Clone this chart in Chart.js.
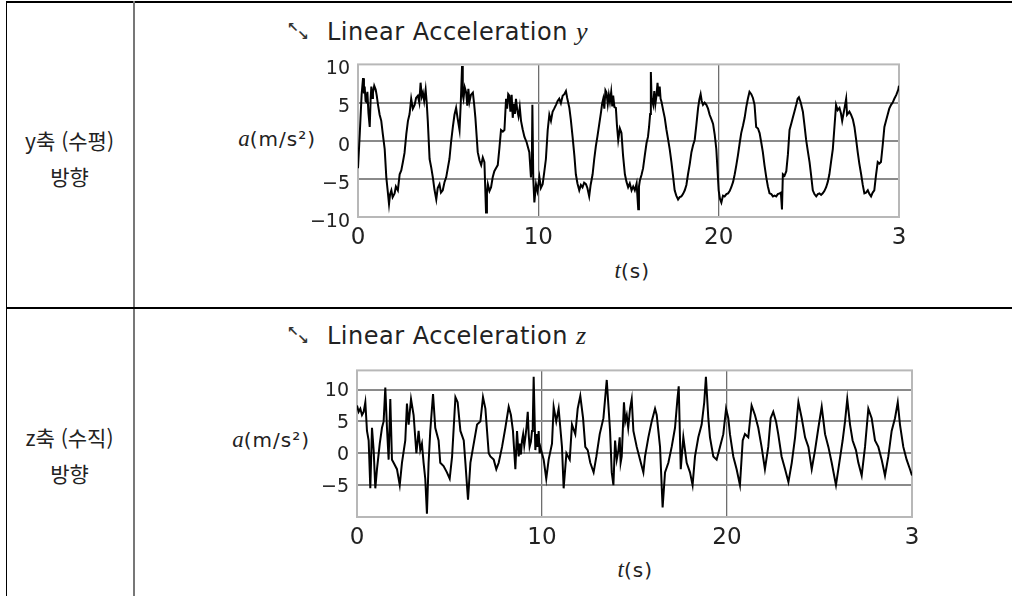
<!DOCTYPE html>
<html lang="ko">
<head>
<meta charset="UTF-8">
<title>Linear Acceleration</title>
<script src="https://cdn.jsdelivr.net/npm/chart.js"></script>
<style>
    body { margin: 0; width: 1012px; height: 596px; background: #fff; position: relative; overflow: hidden; font-family: "DejaVu Sans", sans-serif; color: #222; }
    .abs { position: absolute; white-space: nowrap; }
    .line { position: absolute; background: #000; }
    .box { position: absolute; }
    .kr { position: absolute; left: 6px; width: 127px; text-align: center; font-family: "Noto Sans CJK KR", sans-serif; font-size: 21px; line-height: 24px; color: #222; }
    .title { font-size: 24px; line-height: 24px; letter-spacing: 0.5px; color: #222; }
    .it { font-family: "Liberation Serif", serif; font-style: italic; letter-spacing: 0; }
    .unit { font-size: 20px; line-height: 22px; letter-spacing: 1px; text-align: right; }
    .arr { font-size: 14px; line-height: 14px; font-weight: bold; color: #333; }
</style>
</head>
<body>
    <!-- table frame -->
    <div class="line" style="left:6px;top:1px;width:1006px;height:2px;"></div>
    <div class="line" style="left:6px;top:1px;width:1px;height:595px;"></div>
    <div class="line" style="left:133px;top:1px;width:2px;height:595px;background:#777;"></div>
    <div class="line" style="left:6px;top:307px;width:1006px;height:1.5px;"></div>

    <div class="kr" style="top:128px;">y축 (수평)</div>
    <div class="kr" style="top:164px;">방향</div>
    <div class="kr" style="top:425px;">z축 (수직)</div>
    <div class="kr" style="top:461px;">방향</div>

    <!-- chart 1 texts -->
    <div class="abs arr" style="left:287px;top:20px;">↖</div>
    <div class="abs arr" style="left:297px;top:28px;">↘</div>
    <div class="abs title" style="left:327px;top:20px;">Linear Acceleration <span class="it" style="font-size:26px;">y</span></div>
    <div class="abs unit" style="left:196px;width:120px;top:128px;"><span class="it" style="font-size:23px;">a</span>(m/s²)</div>
    <div class="abs unit" style="left:558px;width:92px;top:260px;"><span class="it" style="font-size:23px;">t</span>(s)</div>

    <!-- chart 2 texts -->
    <div class="abs arr" style="left:287px;top:324px;">↖</div>
    <div class="abs arr" style="left:297px;top:332px;">↘</div>
    <div class="abs title" style="left:327px;top:324px;">Linear Acceleration <span class="it" style="font-size:26px;">z</span></div>
    <div class="abs unit" style="left:190px;width:120px;top:429px;"><span class="it" style="font-size:23px;">a</span>(m/s²)</div>
    <div class="abs unit" style="left:561px;width:92px;top:559px;"><span class="it" style="font-size:23px;">t</span>(s)</div>

    <div class="box" style="left:290px;top:45px;width:640px;height:217px;"><canvas id="chartY"></canvas></div>
    <div class="box" style="left:290px;top:351px;width:650px;height:211px;"><canvas id="chartZ"></canvas></div>

<script>
// time (s) and acceleration (m/s^2)
const timeY = [0.00,0.10,0.20,0.28,0.33,0.37,0.42,0.46,0.52,0.58,
    0.65,0.70,0.74,0.79,0.83,0.90,0.98,1.04,1.11,1.20,
    1.29,1.38,1.48,1.57,1.64,1.72,1.78,1.85,1.92,2.03,
    2.10,2.21,2.31,2.40,2.49,2.58,2.68,2.77,2.86,2.95,
    3.04,3.14,3.22,3.32,3.40,3.47,3.54,3.60,3.67,3.75,
    3.81,3.87,3.97,4.06,4.15,4.24,4.34,4.42,4.52,4.60,
    4.70,4.80,4.89,4.98,5.07,5.16,5.26,5.35,5.44,5.52,
    5.63,5.70,5.77,5.81,5.85,5.92,6.00,6.06,6.12,6.18,
    6.26,6.37,6.44,6.51,6.64,6.74,6.83,6.92,7.01,7.10,
    7.15,7.20,7.29,7.38,7.47,7.56,7.65,7.75,7.84,7.93,
    8.03,8.12,8.21,8.27,8.33,8.39,8.45,8.52,8.58,8.65,
    8.70,8.76,8.83,8.90,8.97,9.04,9.13,9.23,9.35,9.50,
    9.59,9.64,9.67,9.72,9.78,9.87,9.95,10.06,10.14,10.24,
    10.33,10.42,10.52,10.61,10.70,10.79,10.88,10.98,11.07,11.16,
    11.25,11.35,11.44,11.53,11.60,11.72,11.80,11.90,12.00,12.08,
    12.17,12.27,12.36,12.45,12.54,12.64,12.72,12.82,12.90,13.01,
    13.10,13.19,13.28,13.38,13.48,13.54,13.60,13.66,13.72,13.78,
    13.85,13.91,13.97,14.04,14.10,14.15,14.22,14.30,14.36,14.43,
    14.52,14.61,14.70,14.80,14.89,14.98,15.07,15.17,15.26,15.35,
    15.45,15.54,15.58,15.63,15.72,15.81,15.90,16.00,16.08,16.14,
    16.20,16.24,16.28,16.37,16.43,16.49,16.55,16.61,16.67,16.73,
    16.78,16.83,16.92,17.01,17.10,17.20,17.29,17.38,17.47,17.56,
    17.65,17.75,17.84,17.93,18.02,18.12,18.21,18.30,18.40,18.49,
    18.58,18.67,18.76,18.86,18.93,19.00,19.06,19.13,19.22,19.32,
    19.41,19.50,19.60,19.69,19.78,19.87,19.94,20.00,20.07,20.15,
    20.24,20.33,20.43,20.52,20.61,20.70,20.80,20.89,20.98,21.07,
    21.16,21.25,21.35,21.44,21.53,21.62,21.71,21.81,21.90,21.99,
    22.08,22.18,22.27,22.36,22.45,22.54,22.64,22.73,22.82,22.92,
    23.01,23.10,23.19,23.28,23.38,23.45,23.51,23.56,23.65,23.75,
    23.84,23.93,24.02,24.11,24.20,24.30,24.38,24.45,24.55,24.67,
    24.76,24.85,24.94,25.04,25.13,25.22,25.31,25.41,25.50,25.59,
    25.68,25.77,25.86,25.96,26.05,26.14,26.23,26.33,26.42,26.51,
    26.60,26.70,26.78,26.85,26.96,27.07,27.12,27.25,27.34,27.44,
    27.53,27.62,27.71,27.80,27.90,27.99,28.08,28.17,28.27,28.36,
    28.45,28.54,28.63,28.72,28.82,28.91,29.00,29.10,29.19,29.28,
    29.37,29.46,29.56,29.65,29.74,29.85,29.96,30.00];
const accelY = [-3.6,1.0,6.0,8.2,6.2,7.1,5.2,5.1,6.4,3.6,
    1.8,5.4,7.1,5.6,6.3,7.2,6.7,5.9,4.7,3.4,
    2.6,0.8,-1.1,-4.8,-6.4,-8.3,-7.0,-6.5,-7.4,-6.9,
    -6.0,-6.5,-4.4,-3.9,-2.8,-1.6,0.9,2.6,3.5,5.5,
    4.2,4.7,5.6,5.9,5.0,7.6,5.8,6.3,5.2,6.7,
    5.0,2.6,-2.4,-3.5,-4.8,-6.4,-7.7,-6.2,-5.7,-6.8,
    -6.5,-5.4,-4.8,-3.6,-2.4,-0.2,1.8,3.4,4.3,3.0,
    1.4,5.0,9.8,6.0,5.5,7.0,6.3,4.6,6.8,5.1,
    6.0,6.3,4.8,3.0,-1.5,-2.6,-3.2,-2.2,-2.8,-9.4,
    -6.8,-5.7,-6.6,-6.1,-4.8,-4.0,-3.6,-3.2,-1.0,1.4,
    1.2,1.4,5.5,4.2,6.1,5.9,3.8,6.0,3.0,4.8,
    3.5,5.5,4.0,3.2,4.4,2.6,1.5,0.5,-0.2,-1.5,
    -4.8,-3.0,4.7,-5.0,-8.1,-5.7,-6.6,-4.8,-6.2,-5.7,
    -4.1,-2.4,1.4,3.4,2.6,3.8,4.2,4.7,5.2,5.5,
    4.9,5.9,6.1,6.5,5.6,4.3,2.8,0.5,-2.0,-4.4,
    -5.6,-6.5,-5.8,-6.1,-5.5,-5.7,-6.2,-7.3,-5.8,-4.4,
    -2.4,-0.7,0.6,2.2,3.8,4.9,5.5,4.2,6.6,6.3,
    4.8,6.0,5.1,6.4,4.5,5.9,4.4,4.3,2.0,0.1,
    1.6,1.0,-2.0,-4.4,-5.4,-6.1,-5.6,-6.5,-6.0,-6.5,
    -5.6,-9.0,-6.0,-5.2,-4.5,-3.6,-2.0,-0.3,0.5,1.8,
    3.5,9.0,5.6,4.7,6.5,4.8,5.9,7.6,5.8,7.1,
    5.5,5.1,4.0,3.0,1.5,0.1,-1.2,-2.8,-4.6,-6.5,
    -7.2,-7.7,-7.4,-7.3,-7.0,-6.5,-5.8,-4.4,-3.0,-1.5,
    -0.6,0.1,2.0,4.3,5.4,6.1,5.2,4.7,5.0,4.7,
    4.2,3.4,2.8,2.2,0.8,-1.1,-4.0,-6.5,-7.6,-8.1,
    -7.2,-7.3,-7.0,-6.9,-6.6,-6.1,-5.4,-4.4,-3.2,-1.9,
    -0.4,1.0,2.0,3.0,4.4,5.5,6.4,6.1,5.6,4.7,
    1.8,1.6,1.0,-0.2,-1.5,-3.2,-4.8,-6.0,-6.9,-7.0,
    -7.3,-7.2,-7.3,-7.0,-6.9,-6.8,-9.0,-4.4,-4.6,-4.0,
    -1.8,1.4,2.2,3.0,3.8,4.7,5.5,5.7,5.0,3.8,
    2.0,0.1,-1.3,-2.8,-4.6,-6.5,-7.0,-7.3,-7.0,-6.9,
    -7.1,-6.9,-6.6,-6.1,-5.4,-4.4,-2.8,-1.1,1.8,4.7,
    4.0,4.3,3.6,2.6,4.0,5.5,3.4,3.8,3.4,2.8,
    1.8,0.2,-1.5,-3.0,-4.4,-5.8,-6.9,-6.8,-6.5,-7.0,
    -7.3,-6.8,-6.5,-4.6,-2.8,-3.0,-2.8,-0.5,1.8,2.6,
    3.4,4.2,4.7,5.0,5.5,6.0,6.7,7.2];

const timeZ = [0.00,0.09,0.18,0.27,0.36,0.45,0.54,0.63,0.72,0.81,
    0.90,0.99,1.08,1.23,1.35,1.44,1.53,1.62,1.71,1.80,
    1.89,1.98,2.16,2.31,2.43,2.61,2.70,2.79,2.92,3.06,
    3.21,3.33,3.42,3.51,3.60,3.69,3.78,3.87,3.96,4.11,
    4.23,4.41,4.50,4.68,4.86,5.01,5.14,5.32,5.44,5.59,
    5.77,5.86,6.00,6.13,6.31,6.49,6.67,6.81,6.94,7.03,
    7.12,7.21,7.39,7.53,7.66,7.84,8.02,8.20,8.32,8.43,
    8.56,8.65,8.74,8.80,8.86,8.92,8.98,9.04,9.10,9.16,
    9.23,9.28,9.33,9.40,9.46,9.50,9.55,9.64,9.70,9.76,
    9.82,9.87,9.91,10.09,10.23,10.36,10.54,10.63,10.77,10.90,
    10.99,11.08,11.17,11.32,11.50,11.62,11.80,11.93,12.07,12.22,
    12.34,12.47,12.61,12.79,12.94,13.12,13.32,13.50,13.59,13.68,
    13.77,13.86,13.95,14.04,14.13,14.20,14.25,14.31,14.43,14.50,
    14.58,14.66,14.76,14.85,14.94,15.12,15.30,15.48,15.57,15.75,
    15.93,16.11,16.20,16.29,16.38,16.52,16.65,16.83,17.01,17.19,
    17.32,17.39,17.50,17.64,17.82,18.00,18.14,18.27,18.45,18.63,
    18.77,18.86,18.99,19.08,19.26,19.44,19.62,19.80,19.95,20.07,
    20.16,20.34,20.52,20.70,20.85,20.97,21.15,21.33,21.51,21.69,
    21.87,22.05,22.23,22.36,22.50,22.65,22.77,22.95,23.14,23.32,
    23.50,23.68,23.86,24.04,24.22,24.40,24.58,24.76,24.94,25.12,
    25.30,25.48,25.66,25.89,26.07,26.25,26.38,26.50,26.65,26.79,
    26.97,27.10,27.28,27.46,27.64,27.82,28.00,28.18,28.36,28.54,
    28.72,28.90,29.08,29.23,29.35,29.53,29.71,29.89,30.00];
const accelZ = [7.5,6.5,7.0,6.0,6.5,8.0,3.5,2.0,-5.5,4.0,
    0.5,-5.5,-2.5,1.5,4.0,5.0,10.3,4.0,-1.0,8.5,
    -1.0,-1.5,-2.5,-5.0,-1.5,2.0,7.8,4.5,8.5,6.0,
    0.0,3.5,0.5,1.5,-1.5,-4.0,-9.5,-1.5,3.5,9.3,
    4.0,2.0,-1.5,-2.0,-3.0,-4.0,-0.5,8.8,8.0,3.5,
    2.0,-1.5,-7.3,-1.5,1.5,4.5,5.0,8.8,7.0,3.5,
    0.0,-0.5,-1.0,-2.5,-1.5,1.0,4.0,7.3,6.0,3.5,
    -2.5,3.5,-0.5,1.5,-0.2,2.0,3.0,1.2,2.5,4.0,
    6.5,3.0,1.0,1.8,3.5,4.5,12.0,0.5,3.0,1.0,
    3.5,0.0,1.0,-1.0,-4.0,-1.0,1.5,7.3,5.0,7.0,
    4.0,1.0,-5.5,0.0,-1.0,4.5,3.0,7.0,9.0,5.5,
    1.0,0.5,-1.5,-3.0,-0.5,3.0,5.5,11.5,7.5,3.5,
    -3.0,-5.0,2.0,-1.0,0.5,2.5,-1.5,-0.5,8.0,5.0,
    6.0,4.0,7.0,8.5,3.5,1.0,-1.0,-3.0,-0.5,2.5,
    5.0,7.0,6.0,3.5,1.0,-8.5,-3.0,-1.5,1.0,4.0,
    8.5,10.5,-2.5,2.5,-1.5,-3.0,-5.0,-0.5,2.5,4.5,
    8.0,12.0,5.5,2.5,-0.5,-1.0,1.0,3.0,7.0,5.5,
    3.0,-0.5,-2.5,-5.0,2.0,3.0,2.5,7.5,6.0,4.0,
    1.0,-2.5,1.0,5.5,6.5,5.0,3.0,-0.5,-2.5,-4.5,
    -1.5,2.5,8.0,5.5,2.5,1.0,-2.5,0.5,4.0,7.3,
    3.0,1.0,-1.5,-5.0,-1.5,2.0,5.0,8.5,4.5,2.0,
    0.5,-1.5,-3.5,1.0,7.0,5.5,2.0,1.0,-1.0,-3.5,
    -0.5,3.5,5.5,8.0,4.5,1.0,-1.0,-2.5,-3.5];

const xTicks = [0, 10, 20, 30];
const xTickLabels = ['0', '10', '20', '3'];
const yTicksY = [-10, -5, 0, 5, 10];
const yTicksZ = [-10, -5, 0, 5, 10];
const yLabelsZ = ['', '-5', '0', '5', '10'];

// grey frame round the plot area
const framePlugin = {
    id: 'frame',
    beforeDatasetsDraw(chart) {
        const { ctx, chartArea: a } = chart;
        ctx.save();
        ctx.strokeStyle = '#b8b8b8';
        ctx.lineWidth = 2;
        ctx.strokeRect(a.left, a.top, a.right - a.left, a.bottom - a.top);
        ctx.restore();
    }
};

function makeChart(id, times, values, yMin, yMax, yTicks, yLabels, yWidth, labelOffset, padRight) {
    const points = times.map((t, i) => ({ x: t, y: values[i] }));
    return new Chart(document.getElementById(id), {
        type: 'line',
        data: {
            datasets: [{
                data: points,
                borderColor: '#000',
                borderWidth: 2,
                pointRadius: 0,
                tension: 0,
                fill: false
            }]
        },
        options: {
            responsive: true,
            maintainAspectRatio: false,
            animation: false,
            layout: { padding: { top: 12, right: padRight, left: 0, bottom: 0 } },
            plugins: { legend: { display: false }, tooltip: { enabled: false } },
            scales: {
                x: {
                    type: 'linear',
                    min: 0,
                    max: 30,
                    afterBuildTicks: s => { s.ticks = xTicks.map(v => ({ value: v })); },
                    afterFit: s => { s.height = 45; },
                    border: { display: false },
                    grid: {
                        drawTicks: false,
                        color: ctx => (ctx.tick && (ctx.tick.value === 10 || ctx.tick.value === 20)) ? '#6e6e6e' : 'rgba(0,0,0,0)',
                        lineWidth: 1.3
                    },
                    ticks: {
                        padding: 7,
                        color: '#222',
                        font: { family: 'DejaVu Sans', size: 23 },
                        maxRotation: 0,
                        callback: (v) => xTickLabels[xTicks.indexOf(v)]
                    }
                },
                y: {
                    min: yMin,
                    max: yMax,
                    afterBuildTicks: s => { s.ticks = yTicks.map(v => ({ value: v })); },
                    afterFit: s => { s.width = yWidth; },
                    border: { display: false },
                    grid: {
                        drawTicks: false,
                        color: ctx => (ctx.tick && ctx.tick.value > yMin && ctx.tick.value < yMax) ? '#8a8a8a' : 'rgba(0,0,0,0)',
                        lineWidth: 2
                    },
                    ticks: {
                        padding: 8,
                        labelOffset: labelOffset,
                        color: '#222',
                        font: { family: 'DejaVu Sans', size: 19 },
                        callback: (v) => yLabels[yTicks.indexOf(v)].replace('-', '\u2212')
                    }
                }
            }
        },
        plugins: [framePlugin]
    });
}

makeChart('chartY', timeY, accelY, -10, 10, yTicksY, yTicksY.map(String), 68, 5, 31);
makeChart('chartZ', timeZ, accelZ, -10, 13, yTicksZ, yLabelsZ, 67, 2, 28);
</script>
</body>
</html>
